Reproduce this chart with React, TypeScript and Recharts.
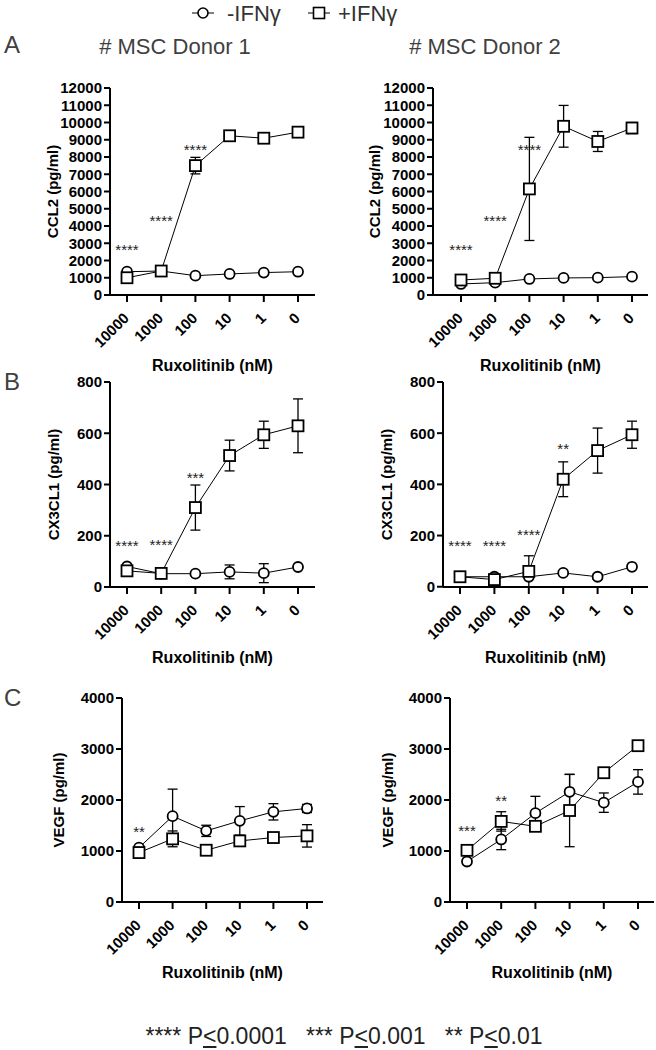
import React from 'react';
import { LineChart, Line, XAxis, YAxis, ErrorBar } from 'recharts';

const FONT = '"Liberation Sans", Arial, Helvetica, sans-serif';

const doses = ['10000', '1000', '100', '10', '1', '0'];

// Panel A – CCL2 (pg/ml)
const ccl2D1Minus = [1350, 1390, 1120, 1220, 1300, 1350];
const ccl2D1MinusErr = [40, 40, 40, 40, 40, 40];
const ccl2D1Plus = [1000, 1390, 7500, 9230, 9090, 9440];
const ccl2D1PlusErr = [60, 60, 480, 100, 300, 120];
const ccl2D1Sig = [2800, 4450, 8600, null, null, null];
const ccl2D1SigText = ['****', '****', '****', '', '', ''];

const ccl2D2Minus = [640, 715, 930, 990, 1005, 1065];
const ccl2D2MinusErr = [40, 40, 40, 40, 40, 40];
const ccl2D2Plus = [870, 970, 6150, 9780, 8900, 9680];
const ccl2D2PlusErr = [60, 60, 2990, 1210, 580, 320];
const ccl2D2Sig = [2800, 4450, 8600, null, null, null];
const ccl2D2SigText = ['****', '****', '****', '', '', ''];

// Panel B – CX3CL1 (pg/ml)
const cx3D1Minus = [80, 52, 52, 59, 54, 78];
const cx3D1MinusErr = [3, 3, 3, 27, 37, 3];
const cx3D1Plus = [63, 53, 310, 513, 594, 629];
const cx3D1PlusErr = [3, 3, 88, 60, 53, 105];
const cx3D1Sig = [170, 177, 439, null, null, null];
const cx3D1SigText = ['****', '****', '***', '', '', ''];

const cx3D2Minus = [39, 39, 39, 54, 39, 78];
const cx3D2MinusErr = [3, 3, 3, 3, 10, 3];
const cx3D2Plus = [39, 28, 60, 420, 532, 594];
const cx3D2PlusErr = [3, 15, 61, 68, 88, 53];
const cx3D2Sig = [171, 171, 212, 548, null, null];
const cx3D2SigText = ['****', '****', '****', '**', '', ''];

// Panel C – VEGF (pg/ml)
const vegfD1Minus = [1067, 1683, 1395, 1591, 1768, 1834];
const vegfD1MinusErr = [30, 530, 110, 280, 160, 80];
const vegfD1Plus = [969, 1238, 1015, 1198, 1264, 1297];
const vegfD1PlusErr = [30, 155, 30, 30, 30, 220];
const vegfD1Sig = [1434, null, null, null, null, null];
const vegfD1SigText = ['**', '', '', '', '', ''];

const vegfD2Minus = [794, 1226, 1742, 2161, 1948, 2355];
const vegfD2MinusErr = [30, 200, 330, 340, 190, 240];
const vegfD2Plus = [1013, 1580, 1484, 1794, 2535, 3065];
const vegfD2PlusErr = [30, 190, 30, 710, 30, 30];
const vegfD2Sig = [1452, 2032, null, null, null, null];
const vegfD2SigText = ['***', '**', '', '', '', ''];

const ticksA = [0, 1000, 2000, 3000, 4000, 5000, 6000, 7000, 8000, 9000, 10000, 11000, 12000];
const ticksB = [0, 200, 400, 600, 800];
const ticksC = [0, 1000, 2000, 3000, 4000];

function buildRows(
  minus: number[], minusErr: number[], plus: number[], plusErr: number[],
  sig: (number | null)[], sigText: string[]
) {
  return doses.map((d, i) => ({
    dose: d,
    minus: minus[i],
    minusErr: minusErr[i],
    plus: plus[i],
    plusErr: plusErr[i],
    sig: sig[i],
    sigText: sigText[i],
  }));
}

const CircleDot = (props: any) => {
  const { cx, cy, index } = props;
  if (cx == null || cy == null) return <g key={`c${index}`} />;
  return <circle key={`c${index}`} cx={cx} cy={cy} r={5} fill="#fff" stroke="#000" strokeWidth={1.8} />;
};

const SquareDot = (props: any) => {
  const { cx, cy, index } = props;
  if (cx == null || cy == null) return <g key={`s${index}`} />;
  return <rect key={`s${index}`} x={cx - 5.5} y={cy - 5.5} width={11} height={11} fill="#fff" stroke="#000" strokeWidth={1.8} />;
};

const SigDot = (props: any) => {
  const { cx, cy, index, payload } = props;
  if (cx == null || cy == null || !payload || !payload.sigText) return <g key={`g${index}`} />;
  return (
    <text key={`g${index}`} x={cx} y={cy + 8} textAnchor="middle" fontSize={15} fill="#222" fontFamily={FONT}>
      {payload.sigText}
    </text>
  );
};

const RotTick = (props: any) => {
  const { x, y, payload } = props;
  return (
    <g transform={`translate(${x},${y})`}>
      <text x={3} y={15} textAnchor="end" transform="rotate(-45 3 15)" fontSize={15} fontWeight="bold" fill="#000" fontFamily={FONT}>
        {payload.value}
      </text>
    </g>
  );
};

type Spec = {
  L: number; R: number; T: number; B: number;
  padL: number; padR: number;
  max: number; ticks: number[];
  yLabel: string; yLabelX: number;
  rows: any[];
};

const YW = 90;
const MT = 12;
const MR = 2;
const XH = 95;

function Panel({ spec }: { spec: Spec }) {
  const pw = spec.R - spec.L;
  const ph = spec.B - spec.T;
  const left = spec.L - YW;
  const top = spec.T - MT;
  const width = YW + pw + MR;
  const height = MT + ph + XH;
  const lx = spec.yLabelX - left;
  const ly = MT + ph / 2;
  return (
    <div style={{ position: 'absolute', left, top, width, height }}>
      <LineChart width={width} height={height} data={spec.rows} margin={{ top: MT, right: MR, bottom: 0, left: 0 }}>
        <XAxis
          dataKey="dose"
          type="category"
          padding={{ left: spec.padL, right: spec.padR }}
          height={XH}
          interval={0}
          axisLine={{ stroke: '#000', strokeWidth: 2 }}
          tickLine={{ stroke: '#000', strokeWidth: 2 }}
          tickSize={7}
          tick={<RotTick />}
          label={{
            content: () => (
              <text x={YW + pw / 2} y={MT + ph + 76} textAnchor="middle" fontSize={16} fontWeight="bold" fill="#000" fontFamily={FONT}>
                Ruxolitinib (nM)
              </text>
            ),
          }}
        />
        <YAxis
          type="number"
          domain={[0, spec.max]}
          ticks={spec.ticks}
          interval={0}
          width={YW}
          axisLine={{ stroke: '#000', strokeWidth: 2 }}
          tickLine={{ stroke: '#000', strokeWidth: 2 }}
          tickSize={6}
          tick={{ fill: '#000', fontSize: 15, fontWeight: 'bold', fontFamily: FONT }}
          label={{
            content: () => (
              <text
                x={lx}
                y={ly}
                transform={`rotate(-90 ${lx} ${ly})`}
                textAnchor="middle"
                dominantBaseline="central"
                fontSize={15}
                fontWeight="bold"
                fill="#000"
                fontFamily={FONT}
              >
                {spec.yLabel}
              </text>
            ),
          }}
        />
        <Line dataKey="minus" stroke="#000" strokeWidth={1} dot={<CircleDot />} activeDot={false} isAnimationActive={false}>
          <ErrorBar dataKey="minusErr" width={5} stroke="#000" strokeWidth={1.3} direction="y" />
        </Line>
        <Line dataKey="plus" stroke="#000" strokeWidth={1} dot={<SquareDot />} activeDot={false} isAnimationActive={false}>
          <ErrorBar dataKey="plusErr" width={5} stroke="#000" strokeWidth={1.3} direction="y" />
        </Line>
        <Line dataKey="sig" stroke="none" dot={<SigDot />} activeDot={false} isAnimationActive={false} />
      </LineChart>
    </div>
  );
}

const specs: Spec[] = [
  { L: 110, R: 315, T: 88, B: 295, padL: 17, padR: 17, max: 12000, ticks: ticksA, yLabel: 'CCL2 (pg/ml)', yLabelX: 52,
    rows: buildRows(ccl2D1Minus, ccl2D1MinusErr, ccl2D1Plus, ccl2D1PlusErr, ccl2D1Sig, ccl2D1SigText) },
  { L: 433, R: 648, T: 88, B: 295, padL: 28, padR: 16, max: 12000, ticks: ticksA, yLabel: 'CCL2 (pg/ml)', yLabelX: 374,
    rows: buildRows(ccl2D2Minus, ccl2D2MinusErr, ccl2D2Plus, ccl2D2PlusErr, ccl2D2Sig, ccl2D2SigText) },
  { L: 110, R: 315, T: 382, B: 587, padL: 17, padR: 17, max: 800, ticks: ticksB, yLabel: 'CX3CL1 (pg/ml)', yLabelX: 53,
    rows: buildRows(cx3D1Minus, cx3D1MinusErr, cx3D1Plus, cx3D1PlusErr, cx3D1Sig, cx3D1SigText) },
  { L: 443, R: 648, T: 382, B: 587, padL: 17, padR: 16, max: 800, ticks: ticksB, yLabel: 'CX3CL1 (pg/ml)', yLabelX: 386,
    rows: buildRows(cx3D2Minus, cx3D2MinusErr, cx3D2Plus, cx3D2PlusErr, cx3D2Sig, cx3D2SigText) },
  { L: 122, R: 323, T: 698, B: 902, padL: 17, padR: 16, max: 4000, ticks: ticksC, yLabel: 'VEGF (pg/ml)', yLabelX: 58,
    rows: buildRows(vegfD1Minus, vegfD1MinusErr, vegfD1Plus, vegfD1PlusErr, vegfD1Sig, vegfD1SigText) },
  { L: 450, R: 654, T: 698, B: 902, padL: 17, padR: 16, max: 4000, ticks: ticksC, yLabel: 'VEGF (pg/ml)', yLabelX: 387,
    rows: buildRows(vegfD2Minus, vegfD2MinusErr, vegfD2Plus, vegfD2PlusErr, vegfD2Sig, vegfD2SigText) },
];

const panelLetters = [
  { t: 'A', y: 45 },
  { t: 'B', y: 382 },
  { t: 'C', y: 698 },
];

const titles = [
  { t: '# MSC Donor 1', cx: 175 },
  { t: '# MSC Donor 2', cx: 485 },
];

export default function App() {
  return (
    <div style={{ position: 'absolute', left: 0, top: 0, width: 656, height: 1050, background: '#fff', overflow: 'hidden', fontFamily: FONT }}>
      {/* legend */}
      <svg style={{ position: 'absolute', left: 0, top: 0 }} width={656} height={28}>
        <line x1={192} y1={13} x2={214} y2={13} stroke="#000" strokeWidth={1} />
        <circle cx={203} cy={13} r={5} fill="#fff" stroke="#000" strokeWidth={1.6} />
        <text x={227} y={21} fontSize={22} fill="#333" fontFamily={FONT}>-IFNγ</text>
        <line x1={308} y1={13} x2={330} y2={13} stroke="#000" strokeWidth={1} />
        <rect x={313.5} y={7.5} width={11} height={11} fill="#fff" stroke="#000" strokeWidth={1.6} />
        <text x={338} y={21} fontSize={22} fill="#333" fontFamily={FONT}>+IFNγ</text>
      </svg>
      {panelLetters.map((p) => (
        <div key={p.t} style={{ position: 'absolute', left: 4, top: p.y - 14, fontSize: 24, lineHeight: '28px', color: '#404040' }}>{p.t}</div>
      ))}
      {titles.map((t) => (
        <div key={t.t} style={{ position: 'absolute', left: t.cx - 110, width: 220, top: 34, textAlign: 'center', fontSize: 22, lineHeight: '26px', color: '#404040' }}>{t.t}</div>
      ))}
      {specs.map((s, i) => (
        <Panel key={i} spec={s} />
      ))}
      <div style={{ position: 'absolute', left: 0, width: 688, top: 1022, textAlign: 'center', fontSize: 23, lineHeight: '28px', color: '#222', whiteSpace: 'pre' }}>
        {'**** P'}<u>{'<'}</u>{'0.0001   *** P'}<u>{'<'}</u>{'0.001   ** P'}<u>{'<'}</u>{'0.01'}
      </div>
    </div>
  );
}
